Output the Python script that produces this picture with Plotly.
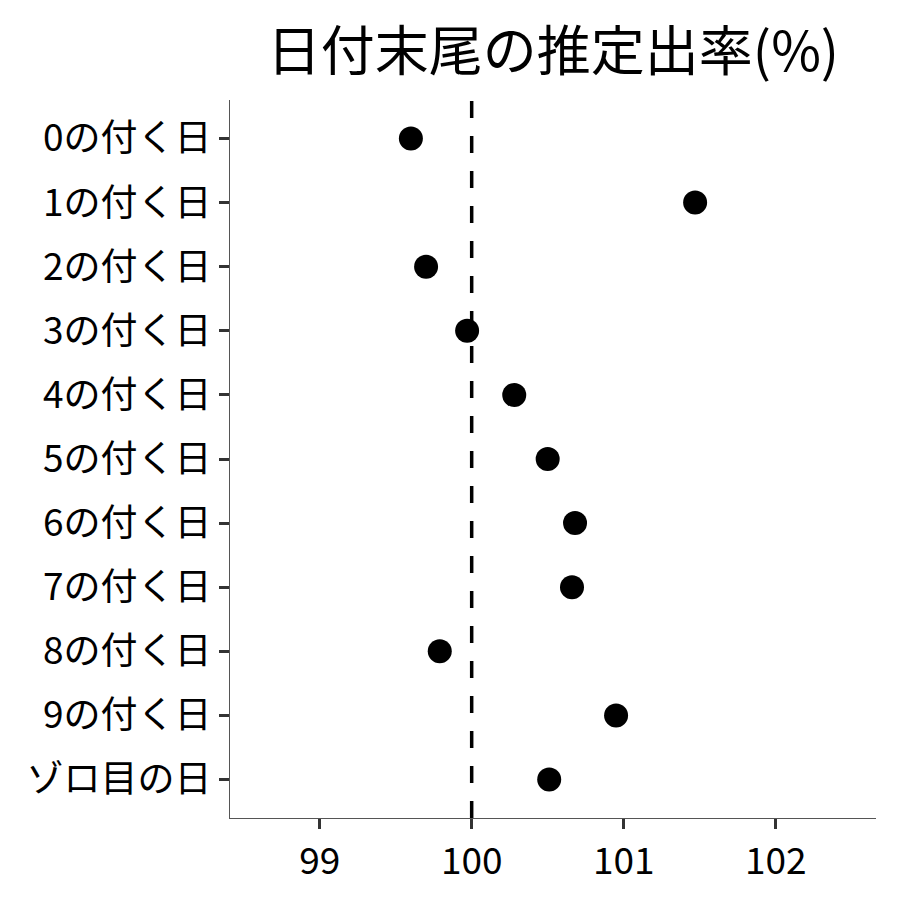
import plotly.graph_objects as go

categories = ["0の付く日", "1の付く日", "2の付く日", "3の付く日", "4の付く日",
              "5の付く日", "6の付く日", "7の付く日", "8の付く日", "9の付く日", "ゾロ目の日"]
rates = [99.60, 101.47, 99.70, 99.97, 100.28, 100.50, 100.68, 100.66, 99.79, 100.95, 100.51]
x_ticks = [99, 100, 101, 102]
reference_value = 100

font_family = "Noto Sans CJK JP"

fig = go.Figure()
fig.add_trace(go.Scatter(
    x=rates, y=categories, mode="markers",
    marker=dict(color="black", size=24),
    cliponaxis=False, showlegend=False,
))
fig.add_shape(type="line", x0=reference_value, x1=reference_value, y0=0, y1=1,
              xref="x", yref="paper",
              line=dict(color="black", width=3.5, dash="17px,18px"), layer="below")

fig.update_layout(
    width=900, height=900,
    paper_bgcolor="white", plot_bgcolor="white",
    margin=dict(l=222, r=32, t=92, b=90),
    title=dict(text="日付末尾の推定出率(%)", x=545/900, xanchor="center",
               y=1 - 44/900, yanchor="middle",
               font=dict(family=font_family, size=54, color="black")),
    font=dict(family=font_family, color="black"),
)
fig.update_xaxes(
    range=[98.41, 102.66], tickvals=x_ticks, ticktext=[str(v) for v in x_ticks],
    showgrid=False, zeroline=False, showline=True, linecolor="#555555", linewidth=1.3,
    ticks="outside", ticklen=10, tickwidth=2.5, tickcolor="#333333",
    tickfont=dict(family=font_family, size=37, color="black"),
)
fig.update_yaxes(
    categoryorder="array", categoryarray=categories,
    range=[10.6, -0.6],
    showgrid=False, zeroline=False, showline=True, linecolor="#555555", linewidth=1.3,
    ticks="outside", ticklen=10, tickwidth=2.5, tickcolor="#333333",
    tickfont=dict(family=font_family, size=37, color="black"),
)
fig.write_html("out.html")
